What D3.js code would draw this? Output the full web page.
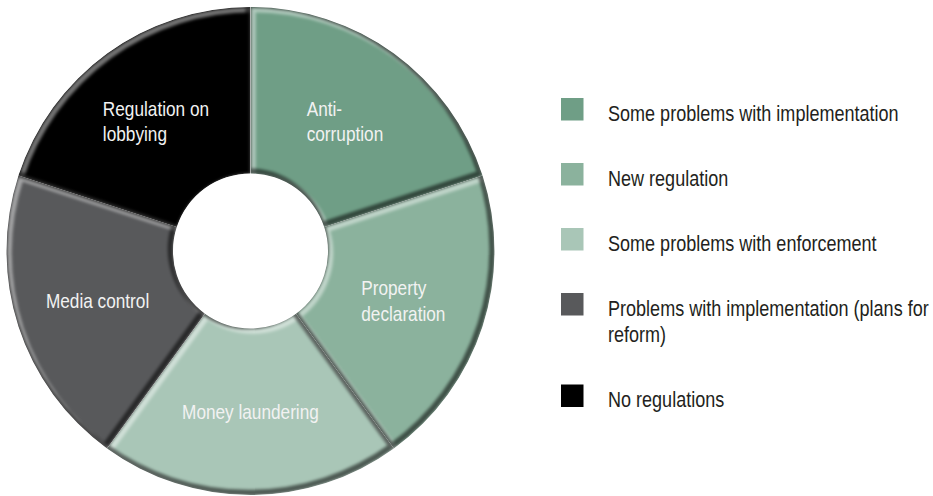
<!DOCTYPE html>
<html>
<head>
<meta charset="utf-8">
<script src="https://cdn.jsdelivr.net/npm/d3@7/dist/d3.min.js"></script>
<style>
  html, body { margin: 0; padding: 0; background: #ffffff; }
  svg { display: block; }
  text { font-family: "Liberation Sans", Arial, sans-serif; }
</style>
</head>
<body>
<div id="chart"></div>
<script>
// ---- data ----
const categories = ["Anti-\ncorruption", "Property\ndeclaration", "Money laundering", "Media control", "Regulation on\nlobbying"];
const values = [20, 20, 20, 20, 20];
const statusOfCategory = [0, 1, 2, 3, 4];
const legendLabels = ["Some problems with implementation", "New regulation", "Some problems with enforcement", "Problems with implementation (plans for\nreform)", "No regulations"];
const legendColors = ["#6f9e86", "#8bb29d", "#a9c6b7", "#58595b", "#000000"];

// ---- layout ----
const W = 933, H = 496;
const cx = 250.5, cy = 251, outerR = 244, innerR = 77.5;
const labelFont = 21, legendFont = 22, lineH = 25.5, legendLineH = 26.5;
const condense = 0.82; // horizontal squeeze to imitate a condensed face

const svg = d3.select("#chart").append("svg").attr("width", W).attr("height", H);
const defs = svg.append("defs");
const blur = defs.append("filter").attr("id", "soft")
  .attr("x", "-20%").attr("y", "-20%").attr("width", "140%").attr("height", "140%");
blur.append("feGaussianBlur").attr("stdDeviation", 1.8);

const color = d3.scaleOrdinal().domain(d3.range(legendLabels.length)).range(legendColors);
const pie = d3.pie().sort(null).value(d => d.v);
const arc = d3.arc().innerRadius(innerR).outerRadius(outerR);
const data = categories.map((c, i) => ({ c, v: values[i], s: statusOfCategory[i] }));
const arcs = pie(data);

const g = svg.append("g").attr("transform", `translate(${cx},${cy})`);

arcs.forEach((a, i) => {
  const id = "clip" + i;
  defs.append("clipPath").attr("id", id).append("path").attr("d", arc(a));
  const sg = g.append("g").attr("clip-path", `url(#${id})`);
  sg.append("path").attr("d", arc(a)).attr("fill", color(a.data.s));
  // highlight on edges facing top-left
  sg.append("path").attr("d", arc(a)).attr("fill", "none")
    .attr("stroke", "#ffffff").attr("stroke-opacity", 0.45).attr("stroke-width", 6)
    .attr("transform", "translate(2.2,2.2)").attr("filter", "url(#soft)");
  // shadow on edges facing bottom-right
  sg.append("path").attr("d", arc(a)).attr("fill", "none")
    .attr("stroke", "#000000").attr("stroke-opacity", 0.55).attr("stroke-width", 6)
    .attr("transform", "translate(-2.2,-2.2)").attr("filter", "url(#soft)");
});

// slice labels
arcs.forEach(a => {
  const [lx, ly] = arc.centroid(a);
  const lines = a.data.c.split("\n");
  const t = g.append("text").attr("fill", "#f2f2f2").attr("font-size", labelFont);
  const spans = lines.map(l => t.append("tspan").attr("x", 0).text(l));
  const maxW = d3.max(spans, s => s.node().getComputedTextLength()) * condense;
  const firstBase = ly - (lines.length - 1) * lineH / 2 + labelFont * 0.72 / 2;
  spans.forEach((s, k) => s.attr("y", firstBase + k * lineH));
  t.attr("transform", `translate(${lx - maxW / 2},0) scale(${condense},1)`);
});

// legend
const legX = 561, legTop = 98, sq = 22.5, textX = 608, itemGap = 65;
let y = legTop;
legendLabels.forEach((lab, i) => {
  const lines = lab.split("\n");
  svg.append("rect").attr("x", legX).attr("y", y).attr("width", sq).attr("height", sq).attr("fill", color(i));
  const t = svg.append("text").attr("fill", "#231f20").attr("font-size", legendFont)
    .attr("transform", `translate(${textX},0) scale(${condense},1)`);
  lines.forEach((l, k) => t.append("tspan").attr("x", 0).attr("y", y + 23 + k * legendLineH).text(l));
  y += itemGap + (lines.length - 1) * legendLineH;
});
</script>
</body>
</html>
